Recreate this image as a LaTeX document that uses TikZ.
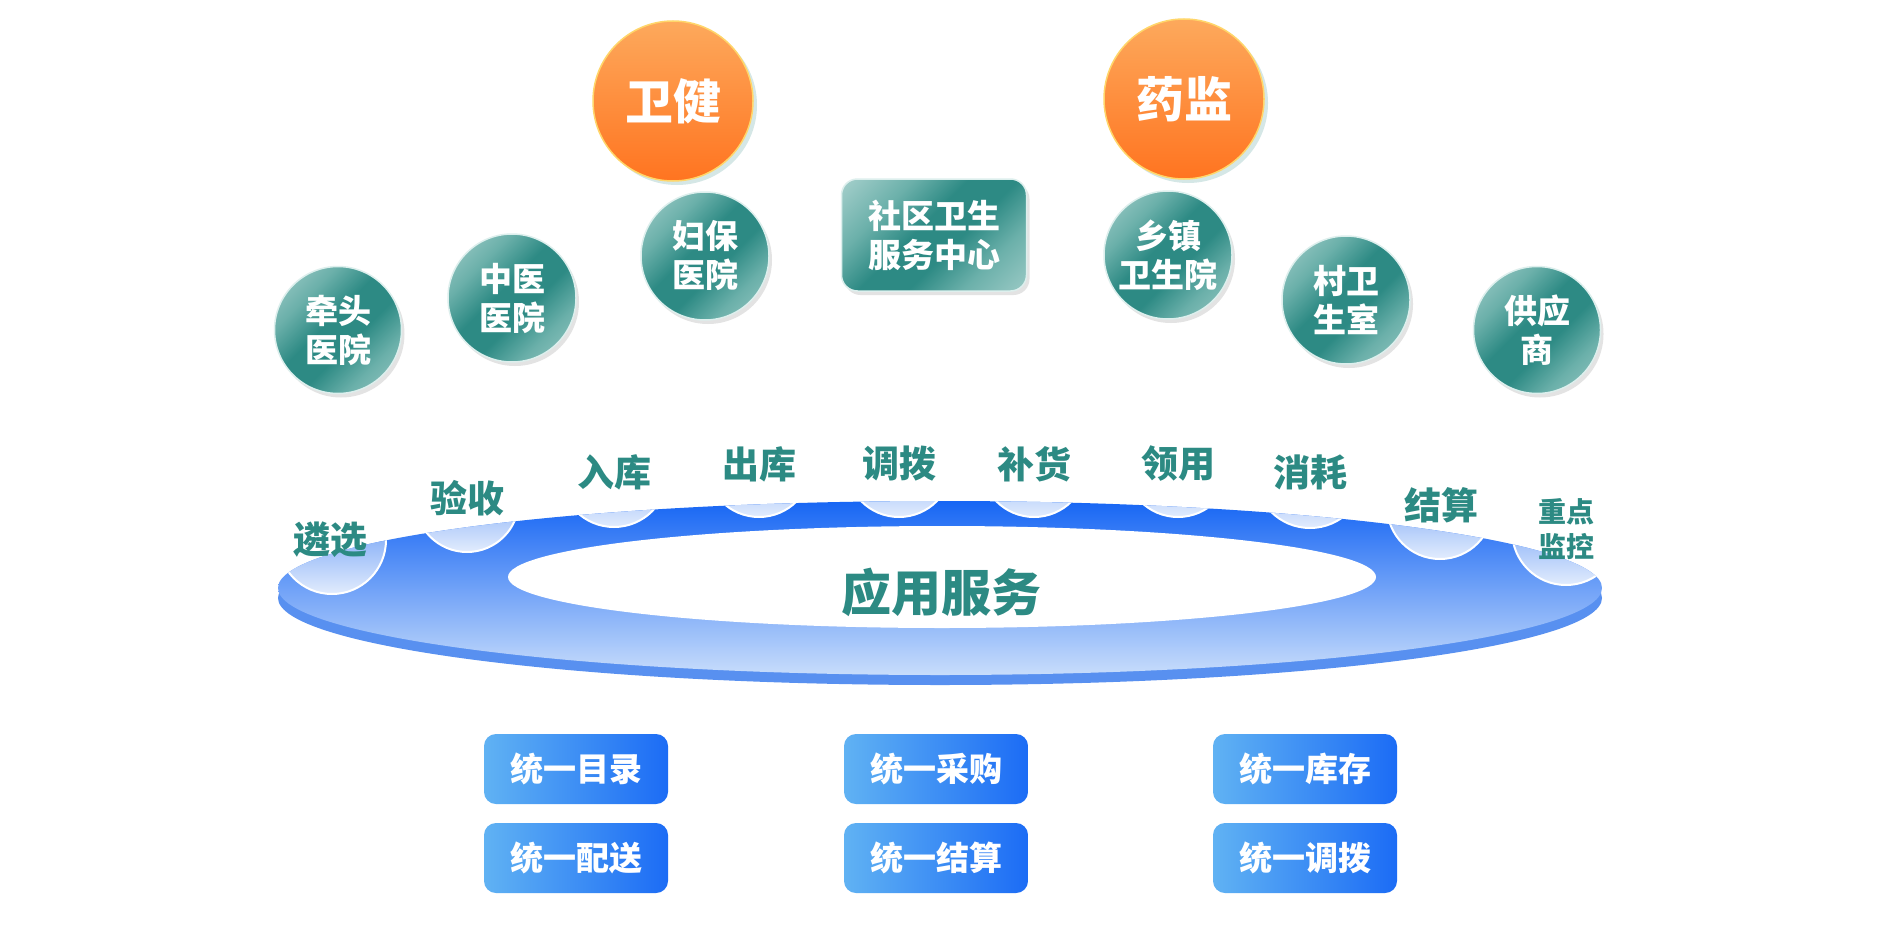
\documentclass[tikz,border=0pt]{standalone}
\usepackage{fontspec}
\setmainfont{Noto Sans CJK SC}
\usetikzlibrary{shadows,shadings}
\definecolor{tealtxt}{HTML}{2C8A83}
\definecolor{tgLa}{HTML}{D6EAE8}
\definecolor{tgM}{HTML}{6BB0AA}
\definecolor{tgD}{HTML}{2D8A84}
\definecolor{tgLb}{HTML}{C8E2DF}
\definecolor{tealrim}{HTML}{DDEFED}
\definecolor{orTop}{HTML}{FDA95C}
\definecolor{orBot}{HTML}{FF7420}
\definecolor{orRim}{HTML}{FFD66A}
\definecolor{ringTop}{HTML}{1766F4}
\definecolor{ringMid}{HTML}{4A8CF4}
\definecolor{ringBot}{HTML}{C8DDFB}
\definecolor{ringBase}{HTML}{5890F0}
\definecolor{scTop}{HTML}{3F80F3}
\definecolor{scBot}{HTML}{E2ECFD}
\definecolor{btnL}{HTML}{60B2F3}
\definecolor{btnR}{HTML}{1C6CF5}
\pgfdeclarehorizontalshading{tealglobe}{100bp}{color(0bp)=(tgLa); color(32bp)=(tgM); color(45bp)=(tgD); color(57bp)=(tgD); color(70bp)=(tgM); color(100bp)=(tgLb)}
\newcommand\ballfont{\fontsize{33}{39}\selectfont\bfseries}
\newcommand\orfont{\fontsize{48}{54}\selectfont\bfseries}
\newcommand\lblfont{\fontsize{37}{42}\selectfont\bfseries}
\newcommand\btnfont{\fontsize{33}{38}\selectfont\bfseries}
\tikzset{
  tealball/.style={circle, minimum size=#1, inner sep=0pt, shading=tealglobe, shading angle=-45,
    draw=tealrim, line width=1.5pt, drop shadow={opacity=0.22, shadow xshift=3pt, shadow yshift=-4pt},
    text=white, font=\ballfont, align=center},
  tealrect/.style={rounded corners=16pt, minimum width=185pt, minimum height=112pt, inner sep=0pt,
    shading=tealglobe, shading angle=-45, draw=tealrim, line width=1.5pt,
    drop shadow={opacity=0.22, shadow xshift=3pt, shadow yshift=-4pt},
    text=white, font=\ballfont, align=center},
  orball/.style={circle, minimum size=160pt, inner sep=0pt, top color=orTop, bottom color=orBot,
    draw=orRim, line width=1.5pt, drop shadow={fill=tgD, opacity=0.2, shadow xshift=4pt, shadow yshift=-4pt},
    text=white, font=\orfont},
  ringlbl/.style={text=tealtxt, font=\lblfont, inner sep=0pt},
  btn/.style={rounded corners=12pt, minimum width=184pt, minimum height=70pt, inner sep=0pt,
    left color=btnL, right color=btnR, text=white, font=\btnfont},
  scallop/.style={top color=scTop, bottom color=scBot, draw=white, line width=2pt}
}
\begin{document}
\begin{tikzpicture}[x=1pt,y=-1pt]
\fill[white] (0,0) rectangle (1894,942);
\useasboundingbox (0,0) rectangle (1894,942);

% ---------- ring ----------
\fill[ringBase] (940,598) ellipse [x radius=662, y radius=87];
\shade[top color=ringTop, middle color=ringMid, bottom color=ringBot] (940,588) ellipse [x radius=662, y radius=87];
\fill[white] (942,577) ellipse [x radius=434, y radius=51];

\begin{scope}
  \clip (940,588) ellipse [x radius=662, y radius=87];
  \shadedraw[scallop] (332,540) circle [radius=54];
  \shadedraw[scallop] (467,500) circle [radius=52];
  \shadedraw[scallop] (614,473) circle [radius=54];
  \shadedraw[scallop] (759,464) circle [radius=53];
  \shadedraw[scallop] (899,464) circle [radius=53];
  \shadedraw[scallop] (1034,464) circle [radius=53];
  \shadedraw[scallop] (1178,464) circle [radius=53];
  \shadedraw[scallop] (1310,473) circle [radius=55];
  \shadedraw[scallop] (1440,506) circle [radius=53];
  \shadedraw[scallop] (1566,531) circle [radius=54];
\end{scope}

\node[ringlbl] (l1) at (330,540) {遴选};
\node[ringlbl] (l2) at (467,498) {验收};
\node[ringlbl] (l3) at (614,472) {入库};
\node[ringlbl] (l4) at (759,464) {出库};
\node[ringlbl] (l5) at (899,464) {调拨};
\node[ringlbl] (l6) at (1034,464) {补货};
\node[ringlbl] (l7) at (1178,464) {领用};
\node[ringlbl] (l8) at (1310,472) {消耗};
\node[ringlbl] (l9) at (1441,505) {结算};
\node[ringlbl, font=\fontsize{28}{35}\selectfont\bfseries, align=center] (l10) at (1566,529) {重点\\监控};
\node[text=tealtxt, font=\fontsize{50}{56}\selectfont\bfseries] (core) at (941,592) {应用服务};

% ---------- top nodes ----------
\node[orball] (wj) at (673,101) {卫健};
\node[orball] (yj) at (1184,99) {药监};
\node[tealball=127pt] (qt) at (338,330) {牵头\\医院};
\node[tealball=128pt] (zy) at (512,298) {中医\\医院};
\node[tealball=128pt] (fb) at (705,256) {妇保\\医院};
\node[tealrect] (sq) at (934,235) {社区卫生\\服务中心};
\node[tealball=128pt] (xz) at (1168,255) {乡镇\\卫生院};
\node[tealball=128pt] (cw) at (1346,300) {村卫\\生室};
\node[tealball=127pt] (gy) at (1537,330) {供应\\商};

% ---------- bottom buttons ----------
\node[btn] (b1) at (576,769) {统一目录};
\node[btn] (b2) at (576,858) {统一配送};
\node[btn] (b3) at (936,769) {统一采购};
\node[btn] (b4) at (936,858) {统一结算};
\node[btn] (b5) at (1305,769) {统一库存};
\node[btn] (b6) at (1305,858) {统一调拨};
\end{tikzpicture}
\end{document}
